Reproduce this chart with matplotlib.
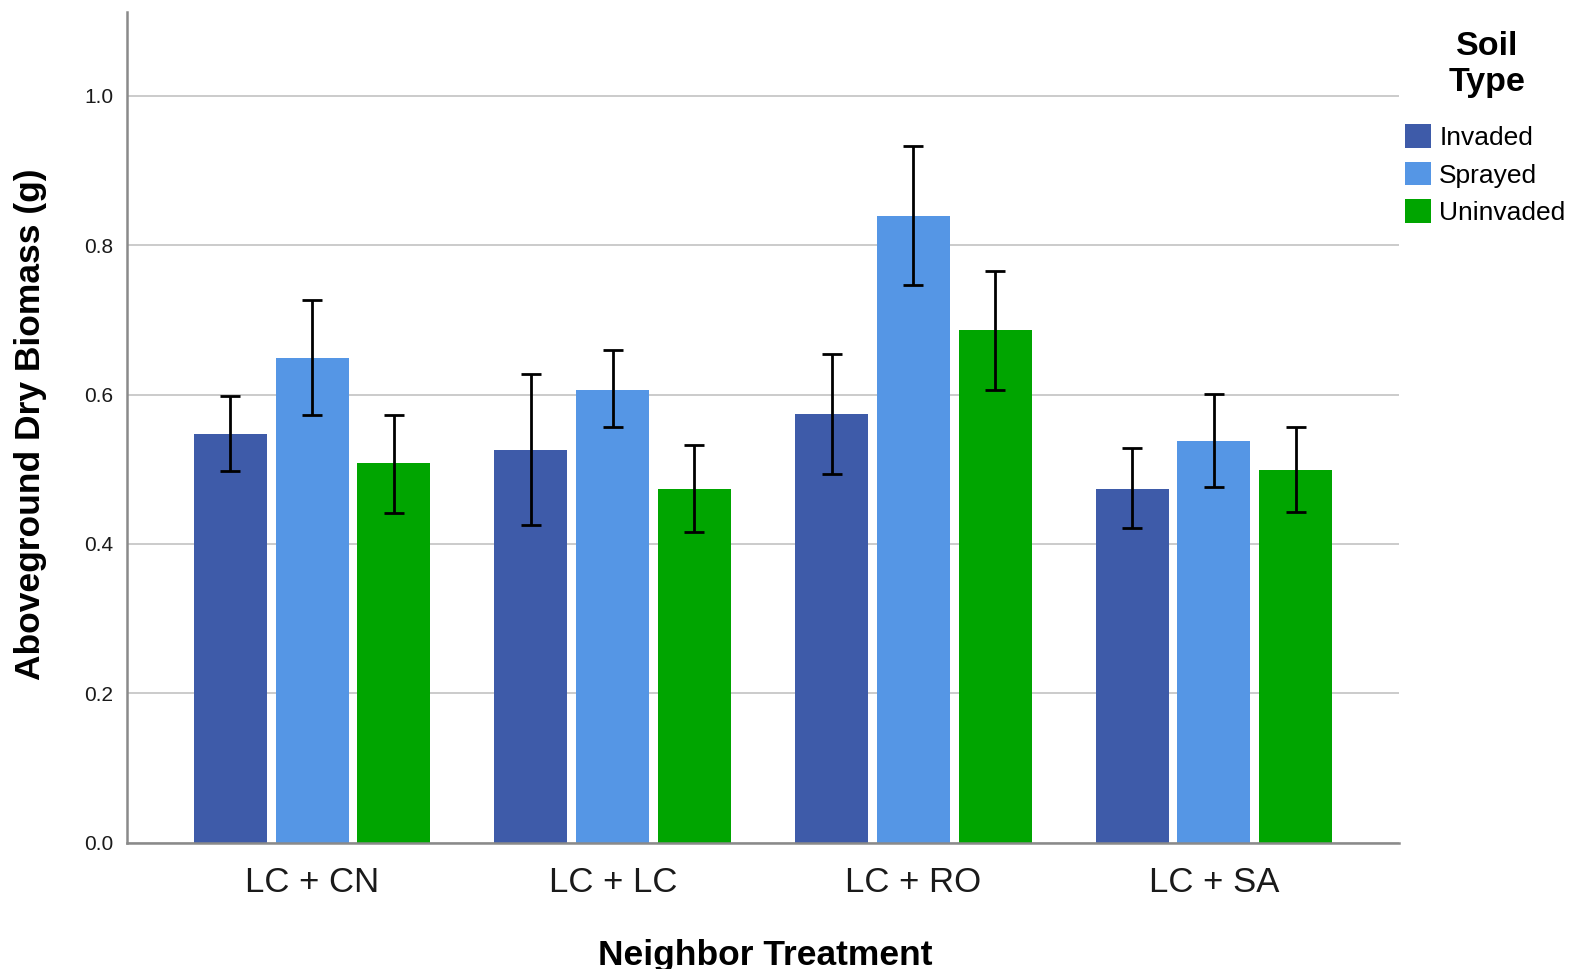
import numpy as np
import matplotlib
matplotlib.use("Agg")
import matplotlib.pyplot as plt

plt.rcParams['font.family'] = ['Liberation Sans', 'DejaVu Sans']

# Mean aboveground dry biomass (g) with 95% CI bounds
categories = ['LC + CN', 'LC + LC', 'LC + RO', 'LC + SA']
soil_types = ['Invaded', 'Sprayed', 'Uninvaded']

invaded = [0.547, 0.526, 0.574, 0.474]
invaded_lo = [0.497, 0.425, 0.494, 0.421]
invaded_hi = [0.598, 0.628, 0.654, 0.529]

sprayed = [0.649, 0.606, 0.839, 0.538]
sprayed_lo = [0.573, 0.556, 0.747, 0.476]
sprayed_hi = [0.727, 0.660, 0.933, 0.601]

uninvaded = [0.508, 0.474, 0.686, 0.499]
uninvaded_lo = [0.442, 0.416, 0.606, 0.443]
uninvaded_hi = [0.572, 0.533, 0.766, 0.556]

colors = ['#3E5BA9', '#5596E5', '#00A500']

series = [
    (invaded, invaded_lo, invaded_hi),
    (sprayed, sprayed_lo, sprayed_hi),
    (uninvaded, uninvaded_lo, uninvaded_hi),
]

fig = plt.figure(figsize=(15.8, 9.69), dpi=100)
ax = fig.add_axes([127 / 1580, 1 - 842.5 / 969, 1272 / 1580, 830.5 / 969])

x = np.arange(len(categories))
width = 0.243
step = 0.272

for i, (vals, lo, hi) in enumerate(series):
    vals = np.array(vals)
    yerr = [vals - np.array(lo), np.array(hi) - vals]
    ax.bar(x + (i - 1) * step, vals, width, color=colors[i], label=soil_types[i],
           zorder=2)
    ax.errorbar(x + (i - 1) * step, vals, yerr=yerr, fmt='none', ecolor='black',
                elinewidth=2.0, capsize=7.5, capthick=2.0, zorder=3)

ax.set_xlim(-0.616, 3.616)
ax.set_ylim(0, 1.1125)
ax.set_xticks(x)
ax.set_xticklabels(categories, fontsize=25, color='#1a1a1a')
ax.set_yticks([0.0, 0.2, 0.4, 0.6, 0.8, 1.0])
ax.set_yticklabels(['0.0', '0.2', '0.4', '0.6', '0.8', '1.0'], fontsize=15,
                   color='#1a1a1a')
ax.tick_params(axis='x', length=0, pad=17)
ax.tick_params(axis='y', length=0, pad=10)

ax.yaxis.grid(True, color='#BDBDBD', linewidth=1.1)
ax.set_axisbelow(True)
for side in ['top', 'right']:
    ax.spines[side].set_visible(False)
for side in ['left', 'bottom']:
    ax.spines[side].set_color('#8a8a8a')
    ax.spines[side].set_linewidth(1.8)

fig.text(765 / 1580, 1 - 965 / 969, 'Neighbor Treatment', ha='center',
         va='baseline', fontsize=25.5, fontweight='bold')
fig.text(31 / 1580, 1 - 424 / 969, 'Aboveground Dry Biomass (g)', rotation=90,
         ha='center', va='center', fontsize=25.5, fontweight='bold')

# legend title drawn separately so its spacing can be set freely
fig.text(1487 / 1580, 1 - 31 / 969, 'Soil\nType', ha='center', va='top',
         multialignment='center', linespacing=1.2, fontsize=24.5,
         fontweight='bold')
ax.legend(loc='upper left', bbox_to_anchor=(1405 / 1580, 1 - 124 / 969),
          bbox_transform=fig.transFigure, frameon=False, fontsize=19,
          handlelength=1.0, handleheight=1.0, handletextpad=0.3,
          labelspacing=0.45, borderpad=0, borderaxespad=0)

fig.savefig('out.png', dpi=100)
